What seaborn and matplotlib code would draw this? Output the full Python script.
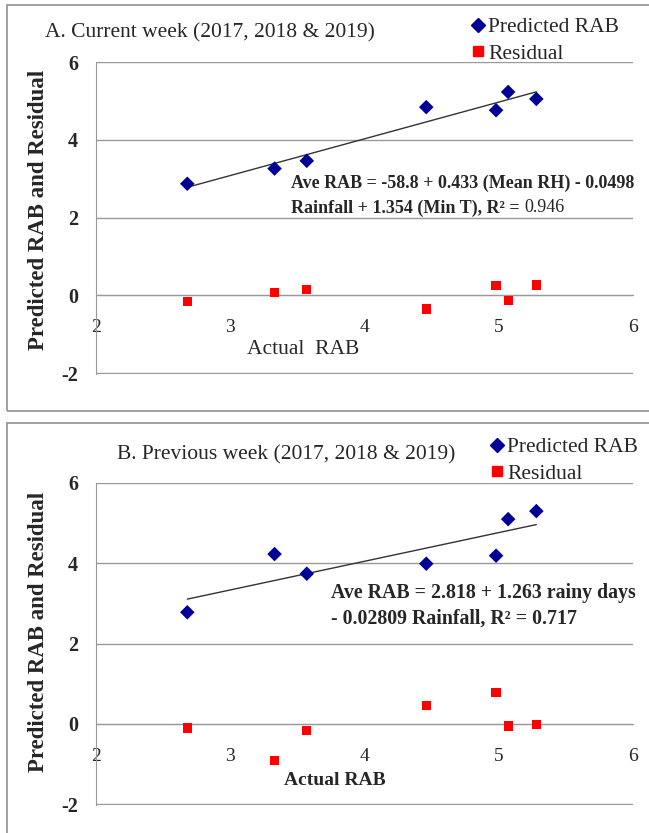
import pandas as pd
import numpy as np
import matplotlib
matplotlib.use("Agg")
import matplotlib.pyplot as plt
import seaborn as sns
from matplotlib.patches import Rectangle
from matplotlib.lines import Line2D

# values
actual_rab = [2.68, 3.33, 3.57, 4.46, 4.98, 5.07, 5.28]
pred_current = [2.87, 3.26, 3.46, 4.84, 4.76, 5.23, 5.05]
resid_current = [-0.16, 0.08, 0.16, -0.35, 0.25, -0.13, 0.27]
pred_previous = [2.78, 4.23, 3.74, 3.99, 4.19, 5.10, 5.30]
resid_previous = [-0.10, -0.92, -0.17, 0.45, 0.78, -0.05, -0.02]

x_ticks = [2, 3, 4, 5, 6]
y_ticks = [-2, 0, 2, 4, 6]
legend_labels = ["Predicted RAB", "Residual"]

sns.set_style("white")
plt.rcParams["font.family"] = ["Liberation Serif", "DejaVu Serif"]

W, H = 649, 833
BLUE = "#000099"
RED = "#FF0000"
GREY = "#999999"

fig = plt.figure(figsize=(W / 100, H / 100), dpi=100)


def fx(px):
    return px / W


def fy(py):
    return 1 - py / H


def panel(top, bottom, pred, resid, title, title_pos, leg_pos, xlab, xlab_pos, xlab_kw, ylab_y):
    ax = fig.add_axes([fx(96), fy(bottom), (633 - 96) / W, (bottom - top) / H])
    df = pd.DataFrame({"actual": actual_rab, "pred": pred, "resid": resid})
    sns.regplot(data=df, x="actual", y="pred", scatter=False, ci=None, truncate=True,
                color="#333333", line_kws={"lw": 1}, ax=ax)
    sns.scatterplot(data=df, x="actual", y="pred", marker="D", s=55, color=BLUE,
                    edgecolor="none", ax=ax, zorder=3)
    sns.scatterplot(data=df, x="actual", y="resid", marker="s", s=44, color=RED,
                    edgecolor="none", ax=ax, zorder=3)
    for s in ["top", "right"]:
        ax.spines[s].set_visible(False)
    ax.spines["left"].set_color(GREY)
    ax.spines["bottom"].set_color(GREY)
    ax.spines["bottom"].set_position(("data", 0))
    ax.set_xlim(2, 6)
    ax.set_ylim(-2.02, 6)
    ax.set_xticks(x_ticks)
    ax.set_xticklabels([str(v) for v in x_ticks], fontsize=14)
    ax.set_yticks(y_ticks)
    ax.set_yticklabels([str(v) for v in y_ticks], fontsize=14.5, fontweight="bold")
    ax.yaxis.grid(True, color=GREY, lw=1)
    ax.xaxis.grid(False)
    ax.set_axisbelow(True)
    ax.tick_params(axis="x", direction="out", length=5, color=GREY, pad=12)
    ax.tick_params(axis="y", direction="out", length=4, color=GREY, pad=9)

    ax.set_xlabel(xlab, **xlab_kw)
    ax.xaxis.set_label_coords((xlab_pos[0] - 96) / 537, (bottom - xlab_pos[1]) / (bottom - top))
    ax.set_ylabel("Predicted RAB and Residual", fontsize=16.5, fontweight="bold")
    ax.yaxis.set_label_coords((49 - 96) / 537, (bottom - ylab_y) / (bottom - top))

    fig.text(fx(title_pos[0]), fy(title_pos[1]), title, fontsize=15.5, va="center", ha="left")

    handles = [Line2D([], [], marker="D", color=BLUE, ls="none", ms=7),
               Line2D([], [], marker="s", color=RED, ls="none", ms=6.5)]
    fig.legend(handles, legend_labels, loc="upper left", bbox_to_anchor=(fx(leg_pos[0]), fy(leg_pos[1])),
               frameon=False, borderpad=0, borderaxespad=0, handlelength=0.5, handletextpad=0.2,
               labelspacing=0.3, fontsize=15.5)
    return ax


ax1 = panel(62, 374, pred_current, resid_current, "A. Current week (2017, 2018 & 2019)",
            (45, 33), (473, 17), "Actual  RAB", (303, 340), {"fontsize": 15.5}, 210)
ax2 = panel(483, 805, pred_previous, resid_previous, "B. Previous week (2017, 2018 & 2019)",
            (117, 455), (492, 437), "Actual RAB", (335, 772), {"fontsize": 14, "fontweight": "bold"}, 632)

# regression equations
fig.text(fx(291), fy(183), "Ave RAB = -58.8 + 0.433 (Mean RH) - 0.0498",
         fontsize=13, fontweight="bold", va="center")
t = fig.text(fx(291), fy(208), "Rainfall + 1.354 (Min T), R² = ",
             fontsize=13, fontweight="bold", va="center")
ax1.annotate("0.946", xy=(1, 0.5), xycoords=t, fontsize=13, va="center", ha="left")

fig.text(fx(331), fy(593), "Ave RAB = 2.818 + 1.263 rainy days",
         fontsize=14.3, fontweight="bold", va="center")
fig.text(fx(331), fy(619), "- 0.02809 Rainfall, R² = 0.717",
         fontsize=14.3, fontweight="bold", va="center")

# panel frames
fig.add_artist(Rectangle((fx(6.5), fy(411)), 1.1, (411 - 5) / H, transform=fig.transFigure,
                         fill=False, ec=GREY, lw=1.3))
fig.add_artist(Rectangle((fx(6.5), -0.1), 1.1, 0.1 + fy(423), transform=fig.transFigure,
                         fill=False, ec=GREY, lw=1.3))

fig.savefig("out.png", dpi=100)
